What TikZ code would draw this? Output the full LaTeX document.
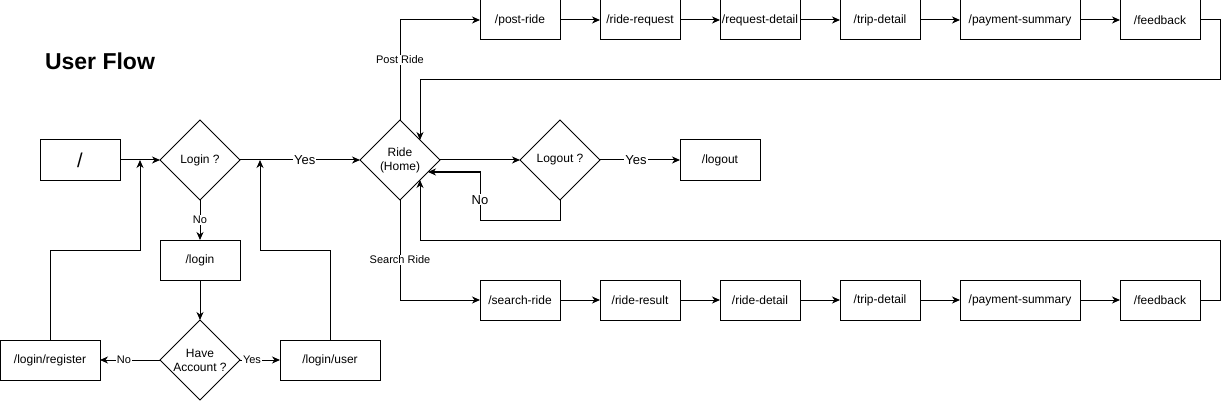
\documentclass[tikz,border=0pt]{standalone}
\usepackage{fontspec}
\setmainfont{Liberation Sans}
\usepackage{tikz}
\usetikzlibrary{shapes.geometric, arrows.meta, positioning, calc}
\tikzstyle{pagenode} = [rectangle, minimum width=80pt, minimum height=40pt, inner sep=1pt, outer sep=0pt, text centered, draw=black, line width=1pt, font=\fontsize{12pt}{14pt}\selectfont]
\tikzstyle{decision} = [diamond, aspect=1, minimum width=80pt, minimum height=80pt, inner sep=0pt, outer sep=0pt, align=center, draw=black, line width=1pt, font=\fontsize{12pt}{14pt}\selectfont]
\tikzstyle{arrow} = [line width=1pt,->,>={Stealth[length=8pt,width=7pt,inset=2.5pt]}]
\tikzstyle{edgelabel} = [fill=white, inner sep=1pt, font=\fontsize{11pt}{13pt}\selectfont]
\tikzstyle{biglabel} = [fill=white, inner sep=1pt, font=\fontsize{13pt}{15pt}\selectfont]

\begin{document}
\begin{tikzpicture}[x=1pt, y=1pt, node distance=40pt]

    \useasboundingbox (0,0) rectangle (1229,-401);

    \node (title) at (100,-61) [font=\fontsize{23pt}{27pt}\selectfont\bfseries] {User Flow};

    \node (root) [pagenode, font=\fontsize{20pt}{24pt}\selectfont] at (80,-160) {/};
    \node (login) [decision, right=of root] {Login ?};
    \node (loginpage) [pagenode, below=of login] {/login};
    \node (haveacc) [decision, below=of loginpage] {Have\\Account ?};
    \node (register) [pagenode, minimum width=100pt, left=60pt of haveacc] {/login/register};
    \node (loginuser) [pagenode, minimum width=100pt, right=of haveacc] {/login/user};
    \node (ride) [decision, right=120pt of login] {Ride\\(Home)};
    \node (logout) [decision, right=80pt of ride] {Logout ?};
    \node (logoutpage) [pagenode, right=80pt of logout] {/logout};

    % post ride
    \node (postride) [pagenode] at (520,-20) {/post-ride};
    \node (riderequest) [pagenode, right=of postride] {/ride-request};
    \node (requestdetail) [pagenode, right=of riderequest] {/request-detail};
    \node (tripdetailA) [pagenode, right=of requestdetail] {/trip-detail};
    \node (paymentA) [pagenode, minimum width=120pt, right=of tripdetailA] {/payment-summary};
    \node (feedbackA) [pagenode, right=of paymentA] {/feedback};

    % search ride
    \node (searchride) [pagenode] at (520,-300) {/search-ride};
    \node (rideresult) [pagenode, right=of searchride] {/ride-result};
    \node (ridedetail) [pagenode, right=of rideresult] {/ride-detail};
    \node (tripdetailB) [pagenode, right=of ridedetail] {/trip-detail};
    \node (paymentB) [pagenode, minimum width=120pt, right=of tripdetailB] {/payment-summary};
    \node (feedbackB) [pagenode, right=of paymentB] {/feedback};

    \coordinate (loginin) at ($(root.east)!0.5!(login.west)$);
    \coordinate (yesin) at ($(login.east)+(20,0)$);
    \coordinate (ridetop) at ($(ride.north)!0.5!(ride.east)$);
    \coordinate (ridebot) at ($(ride.south)!0.5!(ride.east)$);
    \coordinate (ridein) at ($(ride.east)+(-12,-12)$);

    \draw [arrow] (root) -- (login);
    \draw [arrow] (login) -- node[biglabel, pos=0.54] {Yes} (ride);
    \draw [arrow] (login) -- node[edgelabel] {No} (loginpage);
    \draw [arrow] (loginpage) -- (haveacc);
    \draw [arrow] (haveacc) -- node[edgelabel, pos=0.6] {No} (register);
    \draw [arrow] (haveacc) -- node[edgelabel, pos=0.3] {Yes} (loginuser);
    \draw [arrow] (register.north) -- ++(0,90) -| (loginin);
    \draw [arrow] (loginuser.north) -- ++(0,90) -| (yesin);

    \draw [arrow] (ride) -- (logout);
    \draw [arrow] (logout) -- node[biglabel, pos=0.45] {Yes} (logoutpage);
    \draw [arrow] (logout.south) -- ++(0,-20) -| node[biglabel, pos=0.71] {No} ++(-80,48) -- (ridein);

    \draw [arrow] (ride.north) |- node[edgelabel, pos=0.3] {Post Ride} (postride.west);
    \draw [arrow] (postride) -- (riderequest);
    \draw [arrow] (riderequest) -- (requestdetail);
    \draw [arrow] (requestdetail) -- (tripdetailA);
    \draw [arrow] (tripdetailA) -- (paymentA);
    \draw [arrow] (paymentA) -- (feedbackA);
    \draw [arrow] (feedbackA.east) -- ++(20,0) -- ++(0,-60) -| (ridetop);

    \draw [arrow] (ride.south) |- node[edgelabel, pos=0.3] {Search Ride} (searchride.west);
    \draw [arrow] (searchride) -- (rideresult);
    \draw [arrow] (rideresult) -- (ridedetail);
    \draw [arrow] (ridedetail) -- (tripdetailB);
    \draw [arrow] (tripdetailB) -- (paymentB);
    \draw [arrow] (paymentB) -- (feedbackB);
    \draw [arrow] (feedbackB.east) -- ++(20,0) -- ++(0,60) -| (ridebot);

\end{tikzpicture}
\end{document}
